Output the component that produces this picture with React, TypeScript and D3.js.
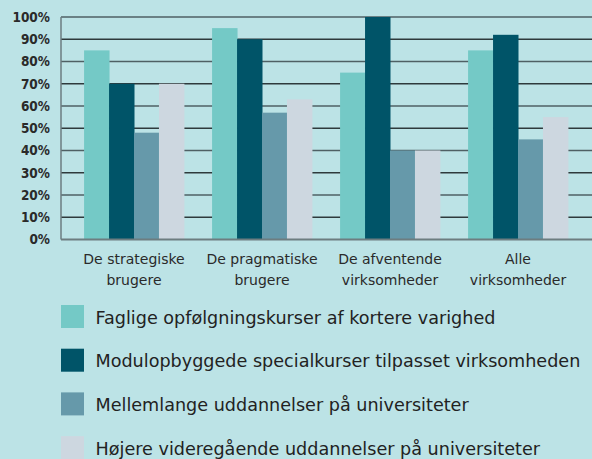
import React, { useRef, useEffect } from "react";
import * as d3 from "d3";

// Data
const categories = [
	["De strategiske", "brugere"],
	["De pragmatiske", "brugere"],
	["De afventende", "virksomheder"],
	["Alle", "virksomheder"],
];

const seriesNames = [
	"Faglige opfølgningskurser af kortere varighed",
	"Modulopbyggede specialkurser tilpasset virksomheden",
	"Mellemlange uddannelser på universiteter",
	"Højere videregående uddannelser på universiteter",
];

const faglige = [85, 95, 75, 85];
const modul = [70, 90, 100, 92];
const mellemlange = [48, 57, 40, 45];
const hoejere = [70, 63, 40, 55];

const yTicks = [0, 10, 20, 30, 40, 50, 60, 70, 80, 90, 100];

const colors = ["#74c9c6", "#005468", "#6699aa", "#cdd7e0"];

const App = () => {
	const chartRef = useRef<SVGSVGElement>(null);

	useEffect(() => {
		const width = 592;
		const height = 459;
		const condensed = "'DejaVu Sans Condensed', 'DejaVu Sans', sans-serif";
		const font = "'DejaVu Sans', sans-serif";
		const series = [faglige, modul, mellemlange, hoejere];

		d3.select(chartRef.current).selectAll("*").remove();

		const svg = d3
			.select(chartRef.current)
			.attr("width", width)
			.attr("height", height);

		svg.append("rect")
			.attr("width", width)
			.attr("height", height)
			.attr("fill", "#bce3e6");

		const plotLeft = 61;
		const plotRight = 592;

		const yScale = d3.scaleLinear()
			.domain([0, 100])
			.range([239.5, 17]);

		const x0 = d3.scaleBand()
			.domain(categories.map((d, i) => String(i)))
			.range([70, 582])
			.paddingInner(0.22)
			.paddingOuter(0.11);

		const x1 = d3.scaleBand()
			.domain(seriesNames)
			.range([0, x0.bandwidth()]);

		// gridlines
		svg.append("g")
			.selectAll("line")
			.data(yTicks.filter(d => d > 0))
			.enter()
			.append("line")
			.attr("x1", plotLeft)
			.attr("x2", plotRight)
			.attr("y1", d => yScale(d))
			.attr("y2", d => yScale(d))
			.attr("stroke", (d, i) => (i % 2 === 0 ? "#2e3a3c" : "#4f6064"))
			.attr("stroke-width", 1.5);

		// y labels
		svg.append("g")
			.selectAll("text")
			.data(yTicks)
			.enter()
			.append("text")
			.attr("x", 50)
			.attr("y", d => yScale(d))
			.attr("dy", "0.36em")
			.attr("text-anchor", "end")
			.attr("font-family", condensed)
			.attr("font-size", 13.5)
			.attr("font-weight", "bold")
			.attr("fill", "#2a2a2a")
			.text(d => `${d}%`);

		// bars
		const groups = svg.append("g")
			.selectAll("g")
			.data(categories)
			.enter()
			.append("g")
			.attr("transform", (d, i) => `translate(${x0(String(i))},0)`);

		groups.selectAll("rect")
			.data((d, i) => series.map((s, j) => ({ name: seriesNames[j], value: s[i], color: colors[j] })))
			.enter()
			.append("rect")
			.attr("x", d => x1(d.name)!)
			.attr("y", d => yScale(d.value))
			.attr("width", x1.bandwidth() + 0.5)
			.attr("height", d => yScale(0) - yScale(d.value))
			.attr("fill", d => d.color);

		// axis lines
		svg.append("line")
			.attr("x1", plotLeft)
			.attr("x2", plotLeft)
			.attr("y1", yScale(100))
			.attr("y2", yScale(0))
			.attr("stroke", "#6d7d80")
			.attr("stroke-width", 1.5);

		svg.append("line")
			.attr("x1", plotLeft)
			.attr("x2", plotRight)
			.attr("y1", yScale(0))
			.attr("y2", yScale(0))
			.attr("stroke", "#6d7d80")
			.attr("stroke-width", 2);

		// category labels
		const xLabels = svg.append("g")
			.selectAll("text")
			.data(categories)
			.enter()
			.append("text")
			.attr("x", (d, i) => x0(String(i))! + x0.bandwidth() / 2)
			.attr("y", 264)
			.attr("text-anchor", "middle")
			.attr("font-family", font)
			.attr("font-size", 14)
			.attr("fill", "#2a2a2a");

		xLabels.selectAll("tspan")
			.data(d => d)
			.enter()
			.append("tspan")
			.attr("x", function () {
				return (this as SVGTSpanElement).parentElement!.getAttribute("x");
			})
			.attr("dy", (d, i) => (i === 0 ? 0 : 21))
			.text(d => d);

		// legend
		const legend = svg.append("g")
			.selectAll("g")
			.data(seriesNames)
			.enter()
			.append("g")
			.attr("transform", (d, i) => `translate(61, ${305 + i * 43.7})`);

		legend.append("rect")
			.attr("width", 23)
			.attr("height", 23)
			.attr("fill", (d, i) => colors[i]);

		legend.append("text")
			.attr("x", 34.5)
			.attr("y", 18.7)
			.attr("font-family", font)
			.attr("font-size", 17.6)
			.attr("fill", "#222")
			.text(d => d);
	}, []);

	return <svg ref={chartRef} style={{ position: "absolute", left: 0, top: 0 }}></svg>;
};

export default App;
